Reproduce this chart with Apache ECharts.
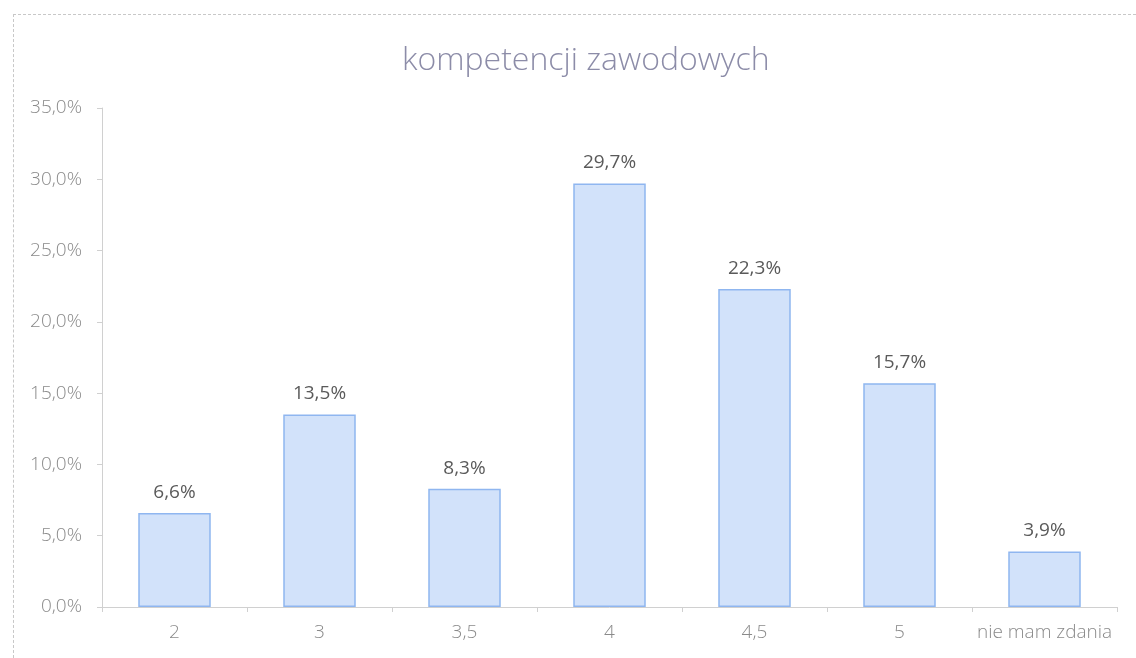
<!DOCTYPE html>
<html>
<head>
<meta charset="utf-8">
<script src="https://cdn.jsdelivr.net/npm/echarts@6/dist/echarts.min.js"></script>
<style>
html, body { margin: 0; padding: 0; background: #fff; }
#main { width: 1136px; height: 658px; position: relative; }
#frame { position: absolute; left: 13px; top: 14px; right: 0; bottom: 0;
  border-top: 1px dashed #c8c8c8; border-left: 1px dashed #c8c8c8; pointer-events: none; }
</style>
</head>
<body>
<div id="main"></div>
<div id="frame"></div>
<script>
// dane
var categories = ['2', '3', '3,5', '4', '4,5', '5', 'nie mam zdania'];
var values = [6.6, 13.5, 8.3, 29.7, 22.3, 15.7, 3.9];
var yMin = 0, yMax = 35, yStep = 5;

var myChart = echarts.init(document.getElementById('main'));

function pct(v) {
    return v.toFixed(1).replace('.', ',') + '%';
}

var option = {
    animation: false,
    title: {
        text: 'kompetencji zawodowych',
        left: 397,
        top: 40,
        textStyle: {
            fontFamily: 'Open Sans',
            fontWeight: 300,
            fontSize: 32,
            color: '#8c8ca8'
        }
    },
    grid: {
        left: 102,
        right: 19,
        top: 108,
        bottom: 51,
        containLabel: false
    },
    xAxis: {
        type: 'category',
        data: categories,
        axisLine: { lineStyle: { color: '#d0d0d0' } },
        axisTick: { show: true, length: 5, lineStyle: { color: '#d0d0d0' } },
        axisLabel: {
            interval: 0,
            margin: 16,
            fontFamily: 'Open Sans',
            fontWeight: 300,
            fontSize: 19,
            color: '#8a8a8a'
        }
    },
    yAxis: {
        type: 'value',
        min: yMin,
        max: yMax,
        interval: yStep,
        axisLine: { show: true, lineStyle: { color: '#d0d0d0' } },
        axisTick: { show: true, length: 5, lineStyle: { color: '#d0d0d0' } },
        splitLine: { show: false },
        axisLabel: {
            margin: 20,
            fontFamily: 'Open Sans',
            fontWeight: 300,
            fontSize: 19,
            color: '#8a8a8a',
            formatter: function (v) { return pct(v); }
        }
    },
    series: [{
        type: 'bar',
        data: values,
        barWidth: '50%',
        itemStyle: {
            color: '#d2e2fa',
            borderColor: '#8fb6f0',
            borderWidth: 1.5
        },
        label: {
            show: true,
            position: 'top',
            distance: 11,
            fontFamily: 'Open Sans',
            fontSize: 19,
            color: '#5a5a5a',
            formatter: function (p) { return pct(p.value); }
        }
    }]
};

myChart.setOption(option);
</script>
</body>
</html>
